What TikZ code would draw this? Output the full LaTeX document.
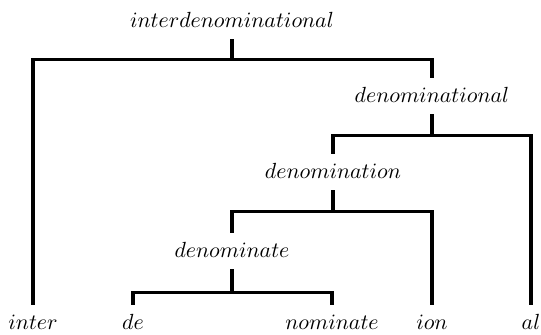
\documentclass[tikz,border=0pt]{standalone}
\begin{document}
\begin{tikzpicture}[x=0.5pt,y=0.5pt,
  lbl/.style={inner sep=0pt,text height=24*0.5pt,text depth=12*0.5pt,anchor=base,font=\fontsize{11}{13}\selectfont},
  tree/.style={line width=1.8pt}]
\useasboundingbox (0,0) rectangle (541,-334);
\node[lbl] (root) at (232,-27) {$interdenominational$};
\node[lbl] (dnl) at (432,-102) {$denominational$};
\node[lbl] (dn) at (333,-178) {$denomination$};
\node[lbl] (dnt) at (232,-257) {$denominate$};
\node[lbl] (inter) at (33,-329) {$inter$};
\node[lbl] (de) at (133,-329) {$de$};
\node[lbl] (nom) at (332,-329) {$nominate$};
\node[lbl] (ion) at (432,-329) {$ion$};
\node[lbl] (al) at (531,-329) {$al$};
\draw[tree] (root.south) -- ++(0,-20) coordinate (j1);
\draw[tree] (inter.north) |- (j1) -| (dnl.north);
\draw[tree] (dnl.south) -- ++(0,-21) coordinate (j2);
\draw[tree] (dn.north) |- (j2) -| (al.north);
\draw[tree] (dn.south) -- ++(0,-21) coordinate (j3);
\draw[tree] (dnt.north) |- (j3) -| (ion.north);
\draw[tree] (dnt.south) -- ++(0,-23) coordinate (j4);
\draw[tree] (de.north) |- (j4) -| (nom.north);
\end{tikzpicture}
\end{document}
